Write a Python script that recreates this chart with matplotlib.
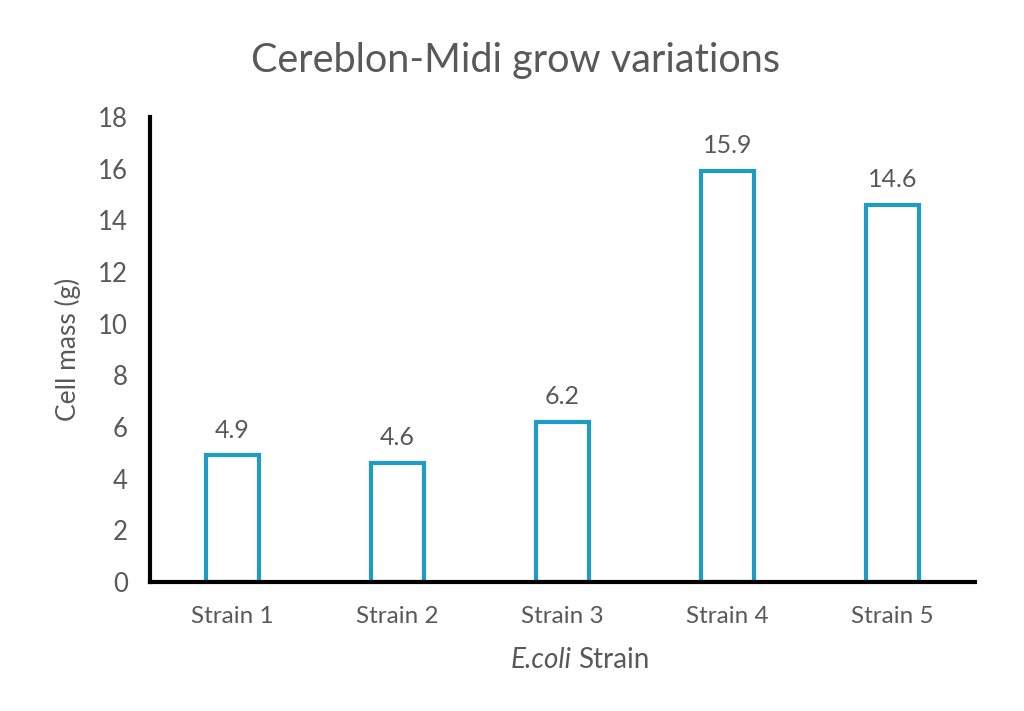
import matplotlib
matplotlib.use("Agg")
import matplotlib.pyplot as plt

categories = ["Strain 1", "Strain 2", "Strain 3", "Strain 4", "Strain 5"]
values = [4.9, 4.6, 6.2, 15.9, 14.6]
yticks = [0, 2, 4, 6, 8, 10, 12, 14, 16, 18]

grey = "#595959"
blue = "#1f9bc8"
plt.rcParams['font.family'] = ['Lato', 'DejaVu Sans']

fig = plt.figure(figsize=(10.24, 7.11), dpi=100)
ax = fig.add_axes([0.1465, 0.1814, 0.8055, 0.654])
x = list(range(len(categories)))
ax.bar(x, values, width=0.32, facecolor="white", edgecolor=blue, linewidth=3, zorder=2)
for xi, v in zip(x, values):
    ax.annotate(f"{v}", (xi, v), xytext=(0, 10), textcoords="offset points",
                ha="center", va="bottom", fontsize=18, color=grey)
ax.set_xlim(-0.5, len(categories) - 0.5)
ax.set_ylim(0, 18)
ax.set_yticks(yticks)
ax.set_xticks(x)
ax.set_xticklabels(categories)
ax.tick_params(axis="both", length=0, labelsize=17.5, labelcolor=grey)
ax.tick_params(axis="y", labelsize=18.5)
ax.tick_params(axis="x", pad=17)
ax.tick_params(axis="y", pad=16)
for s in ["top", "right"]:
    ax.spines[s].set_visible(False)
for s in ["left", "bottom"]:
    ax.spines[s].set_linewidth(3)
    ax.spines[s].set_color("black")
ax.set_ylabel("Cell mass (g)", fontsize=19, color=grey, labelpad=12)
# x label: italic "E.coli" + regular " Strain"
fig.text(572 / 1024, 1 - 660 / 711, "E.coli", ha="right", va="center",
         fontsize=20, color=grey, style="italic")
fig.text(578 / 1024, 1 - 660 / 711, "Strain", ha="left", va="center",
         fontsize=20, color=grey)
fig.text(0.503, 0.915, "Cereblon-Midi grow variations", ha="center", va="center",
         fontsize=28.5, color=grey)
fig.savefig("out.png", dpi=100, facecolor="white")
